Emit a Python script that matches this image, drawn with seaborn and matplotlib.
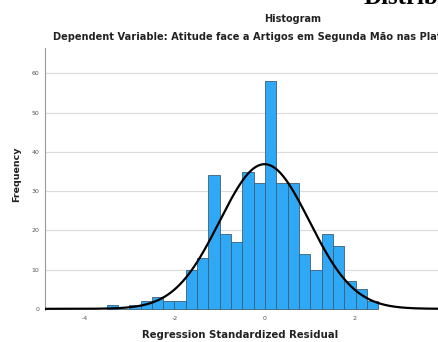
import numpy as np
import pandas as pd
import matplotlib
matplotlib.use("Agg")
import matplotlib.pyplot as plt
import seaborn as sns

# ---- data ----
counts = [1, 0, 1, 2, 3, 2, 2, 10, 13, 34, 19, 17, 35, 32, 58, 32, 32, 14, 10, 19, 16, 7, 5, 2]
bin_start = -3.512
bin_width = 0.2518
curve_mean = 0.0
curve_sd = 0.997
x_ticks = [-4, -2, 0, 2]
y_ticks = [0, 10, 20, 30, 40, 50, 60]
title = "Histogram"
subtitle = "Dependent Variable: Atitude face a Artigos em Segunda Mão nas Plataformas Online"
x_label = "Regression Standardized Residual"
y_label = "Frequency"

edges = [bin_start + bin_width * i for i in range(len(counts) + 1)]
centers = [(edges[i] + edges[i + 1]) / 2 for i in range(len(counts))]
df = pd.DataFrame({"resid": centers, "n": counts})
N = sum(counts)

W, H = 438, 342
fig = plt.figure(figsize=(W / 100, H / 100), dpi=100)
sns.set_style("white")
plt.rcParams["font.family"] = ["DejaVu Sans"]

ax_l, ax_r, ax_t, ax_b = 45, 484, 48, 310
ax = fig.add_axes([ax_l / W, 1 - ax_b / H, (ax_r - ax_l) / W, (ax_b - ax_t) / H])

sns.histplot(data=df, x="resid", weights="n", bins=edges, ax=ax,
             color="#2fa9f5", alpha=1.0, edgecolor="#3d5f78", linewidth=0.6, zorder=2)

xs = np.linspace(-4.9, 4.9, 600)
ys = N * bin_width * np.exp(-0.5 * ((xs - curve_mean) / curve_sd) ** 2) / (curve_sd * np.sqrt(2 * np.pi))
sns.lineplot(x=xs, y=ys, ax=ax, color="black", linewidth=1.6, zorder=3)

ax.set_xlim(-4.88, 4.88)
ax.set_ylim(-0.3, 66.5)
ax.set_xticks(x_ticks)
ax.set_yticks(y_ticks)
ax.set_xticklabels([str(t) for t in x_ticks])
ax.tick_params(axis="both", length=0, labelsize=4.5, labelcolor="#555555", pad=4)
for y in y_ticks[1:]:
    ax.axhline(y, color="#dddddd", linewidth=0.9, zorder=1)
for s in ["top", "right", "bottom"]:
    ax.spines[s].set_visible(False)
ax.spines["left"].set_color("#999999")
ax.spines["left"].set_linewidth(0.8)
ax.set_xlabel("")
ax.set_ylabel("")

fig.text(293 / W, 1 - 19 / H, title, ha="center", va="center", fontsize=7.0, fontweight="bold", color="#222222")
fig.text(53 / W, 1 - 37 / H, subtitle, ha="left", va="center", fontsize=7.1, fontweight="bold", color="#222222")
fig.text(240 / W, 1 - 335 / H, x_label, ha="center", va="center", fontsize=7.3, fontweight="bold", color="#222222")
fig.text(17 / W, 1 - 174 / H, y_label, ha="center", va="center", rotation=90, fontsize=6.8, fontweight="bold", color="#222222")
fig.text(363 / W, 1 - 4 / H, "Distribuição", ha="left", va="baseline", fontsize=18,
         fontweight="bold", family=["Liberation Serif"], color="black")

fig.savefig("out.png", dpi=100)
